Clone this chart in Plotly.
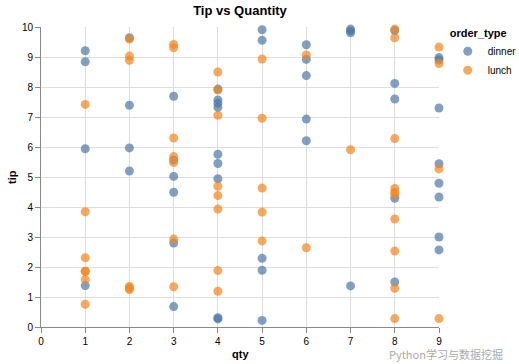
import plotly.graph_objects as go

dinner_qty = [1, 1, 1, 1,
              2, 2, 2, 2,
              3, 3, 3, 3, 3, 3,
              4, 4, 4, 4, 4, 4, 4, 4, 4,
              5, 5, 5, 5, 5,
              6, 6, 6, 6, 6,
              7, 7, 7, 7,
              8, 8, 8, 8, 8,
              9, 9, 9, 9, 9, 9, 9, 9]
dinner_tip = [9.21, 8.84, 5.94, 1.38,
              9.64, 7.39, 5.97, 5.2,
              7.69, 5.57, 5.02, 4.49, 2.8, 0.68,
              7.93, 7.57, 7.46, 7.32, 5.76, 5.45, 4.94, 0.31, 0.27,
              9.91, 9.56, 2.29, 1.89, 0.22,
              9.41, 8.92, 8.38, 6.93, 6.21,
              9.93, 9.87, 9.81, 1.37,
              9.88, 8.12, 7.6, 4.29, 1.5,
              8.98, 8.9, 7.3, 5.44, 4.79, 4.33, 3.0, 2.57]

lunch_qty = [1, 1, 1, 1, 1, 1, 1,
             2, 2, 2, 2, 2, 2,
             3, 3, 3, 3, 3, 3, 3,
             4, 4, 4, 4, 4, 4, 4, 4,
             5, 5, 5, 5, 5,
             6, 6,
             7,
             8, 8, 8, 8, 8, 8, 8, 8, 8, 8,
             9, 9, 9, 9]
lunch_tip = [7.42, 3.84, 2.31, 1.86, 1.85, 1.58, 0.76,
             9.6, 9.03, 8.89, 1.35, 1.3, 1.25,
             9.42, 9.31, 6.3, 5.68, 5.48, 2.93, 1.34,
             8.5, 7.9, 7.06, 4.69, 4.38, 3.93, 1.88, 1.19,
             8.93, 6.96, 4.63, 3.83, 2.87,
             9.07, 2.64,
             5.91,
             9.93, 9.64, 6.28, 4.62, 4.49, 4.42, 3.6, 2.53, 1.29, 0.28,
             9.33, 8.78, 5.27, 0.28]

x_ticks = list(range(0, 10))
y_ticks = list(range(0, 11))

FONT = "Liberation Sans, Arial, sans-serif"

fig = go.Figure()
fig.add_trace(go.Scatter(x=dinner_qty, y=dinner_tip, mode="markers", name="dinner",
                         marker=dict(color="#4c78a8", size=9, opacity=0.7, line=dict(width=0)),
                         cliponaxis=False))
fig.add_trace(go.Scatter(x=lunch_qty, y=lunch_tip, mode="markers", name="lunch",
                         marker=dict(color="#f58518", size=9, opacity=0.7, line=dict(width=0)),
                         cliponaxis=False))

axis_common = dict(showgrid=True, gridcolor="#dddddd", gridwidth=1, zeroline=False,
                   showline=True, linecolor="#888888", linewidth=1,
                   ticks="outside", ticklen=5, tickcolor="#888888",
                   tickfont=dict(family=FONT, size=10, color="#000"),
                   automargin=False, mirror=False)

fig.update_layout(
    width=519, height=364,
    margin=dict(l=41, r=80, t=27, b=37, autoexpand=False),
    paper_bgcolor="white", plot_bgcolor="white",
    title=dict(text="<b>Tip vs Quantity</b>", x=(41 + 439) / 2 / 519, xanchor="center",
               y=1 - 10 / 364, yanchor="middle",
               font=dict(family=FONT, size=13, color="#000")),
    xaxis=dict(range=[0, 9], tickvals=x_ticks, **axis_common),
    yaxis=dict(range=[0, 10], tickvals=y_ticks, **axis_common),
    legend=dict(title=dict(text="<b>order_type</b>",
                           font=dict(family=FONT, size=11, color="#000")),
                x=1.022, y=1.015, xanchor="left", yanchor="top",
                font=dict(family=FONT, size=10, color="#000"),
                itemsizing="trace", tracegroupgap=0, itemwidth=30),
    showlegend=True,
)

fig.add_annotation(text="<b>qty</b>", xref="paper", yref="paper", x=0.5, y=-27 / 300,
                   xanchor="center", yanchor="middle", showarrow=False,
                   font=dict(family=FONT, size=11, color="#000"))
fig.add_annotation(text="<b>tip</b>", xref="paper", yref="paper", x=-29 / 398, y=0.5,
                   xanchor="center", yanchor="middle", showarrow=False, textangle=-90,
                   font=dict(family=FONT, size=11, color="#000"))

fig.add_annotation(text="Python学习与数据挖掘", xref="paper", yref="paper",
                   x=(505 - 41) / 398, y=-27 / 300, xanchor="right", yanchor="middle", showarrow=False,
                   font=dict(family="Noto Sans CJK SC", size=11, color="#aaaaaa"))

fig.write_html("out.html", post_script="document.body.style.margin='0';",
               config={"displayModeBar": False})
